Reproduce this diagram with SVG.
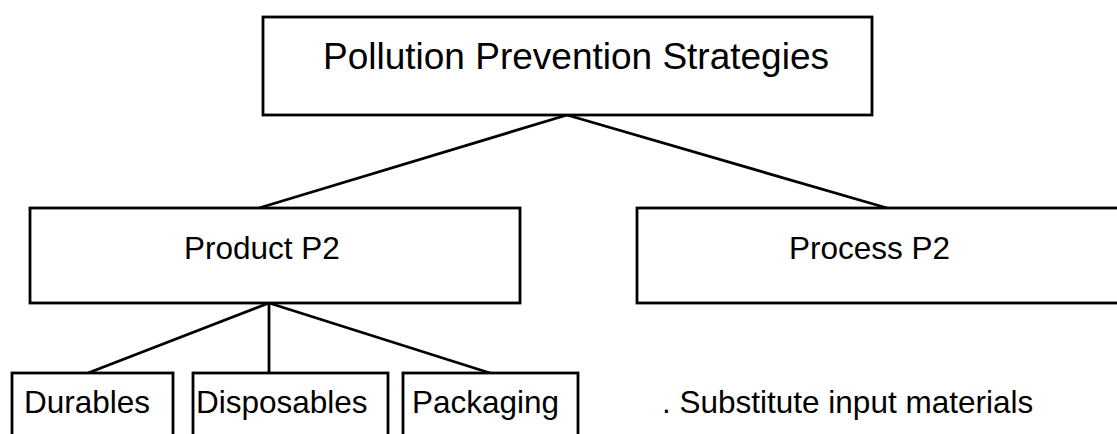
<svg xmlns="http://www.w3.org/2000/svg" width="1117" height="434" viewBox="0 0 1117 434">
<style>
.box{fill:#fff;stroke:#000;stroke-width:2.8}
.ln{stroke:#000;stroke-width:2.8;fill:none}
text{font-family:"Liberation Sans",Arial,sans-serif;fill:#000}
.t1{font-size:37px}
.t2{font-size:31.5px}
</style>
<rect width="1117" height="434" fill="#fff"/>
<g id="connectors">
<line class="ln" x1="567" y1="115" x2="259" y2="208"/>
<line class="ln" x1="567" y1="115" x2="887" y2="208"/>
<line class="ln" x1="269" y1="303" x2="88" y2="373"/>
<line class="ln" x1="269" y1="303" x2="269" y2="373"/>
<line class="ln" x1="269" y1="303" x2="490" y2="373"/>
</g>
<g id="root">
<rect class="box" x="263" y="17" width="609" height="98"/>
<text class="t1" x="576" y="69" text-anchor="middle">Pollution Prevention Strategies</text>
</g>
<g id="product">
<rect class="box" x="30" y="208" width="490" height="95"/>
<text class="t2" x="184" y="259">Product P2</text>
</g>
<g id="process">
<rect class="box" x="637" y="208" width="500" height="95"/>
<text class="t2" x="789" y="259">Process P2</text>
</g>
<g id="durables">
<rect class="box" x="12" y="373" width="161" height="80"/>
<text class="t2" x="24" y="413">Durables</text>
</g>
<g id="disposables">
<rect class="box" x="193" y="373" width="195" height="80"/>
<text class="t2" x="196" y="413">Disposables</text>
</g>
<g id="packaging">
<rect class="box" x="403" y="373" width="175" height="80"/>
<text class="t2" x="412" y="413">Packaging</text>
</g>
<g id="substitute">
<text class="t2" x="662" y="413">. Substitute input materials</text>
</g>
</svg>
